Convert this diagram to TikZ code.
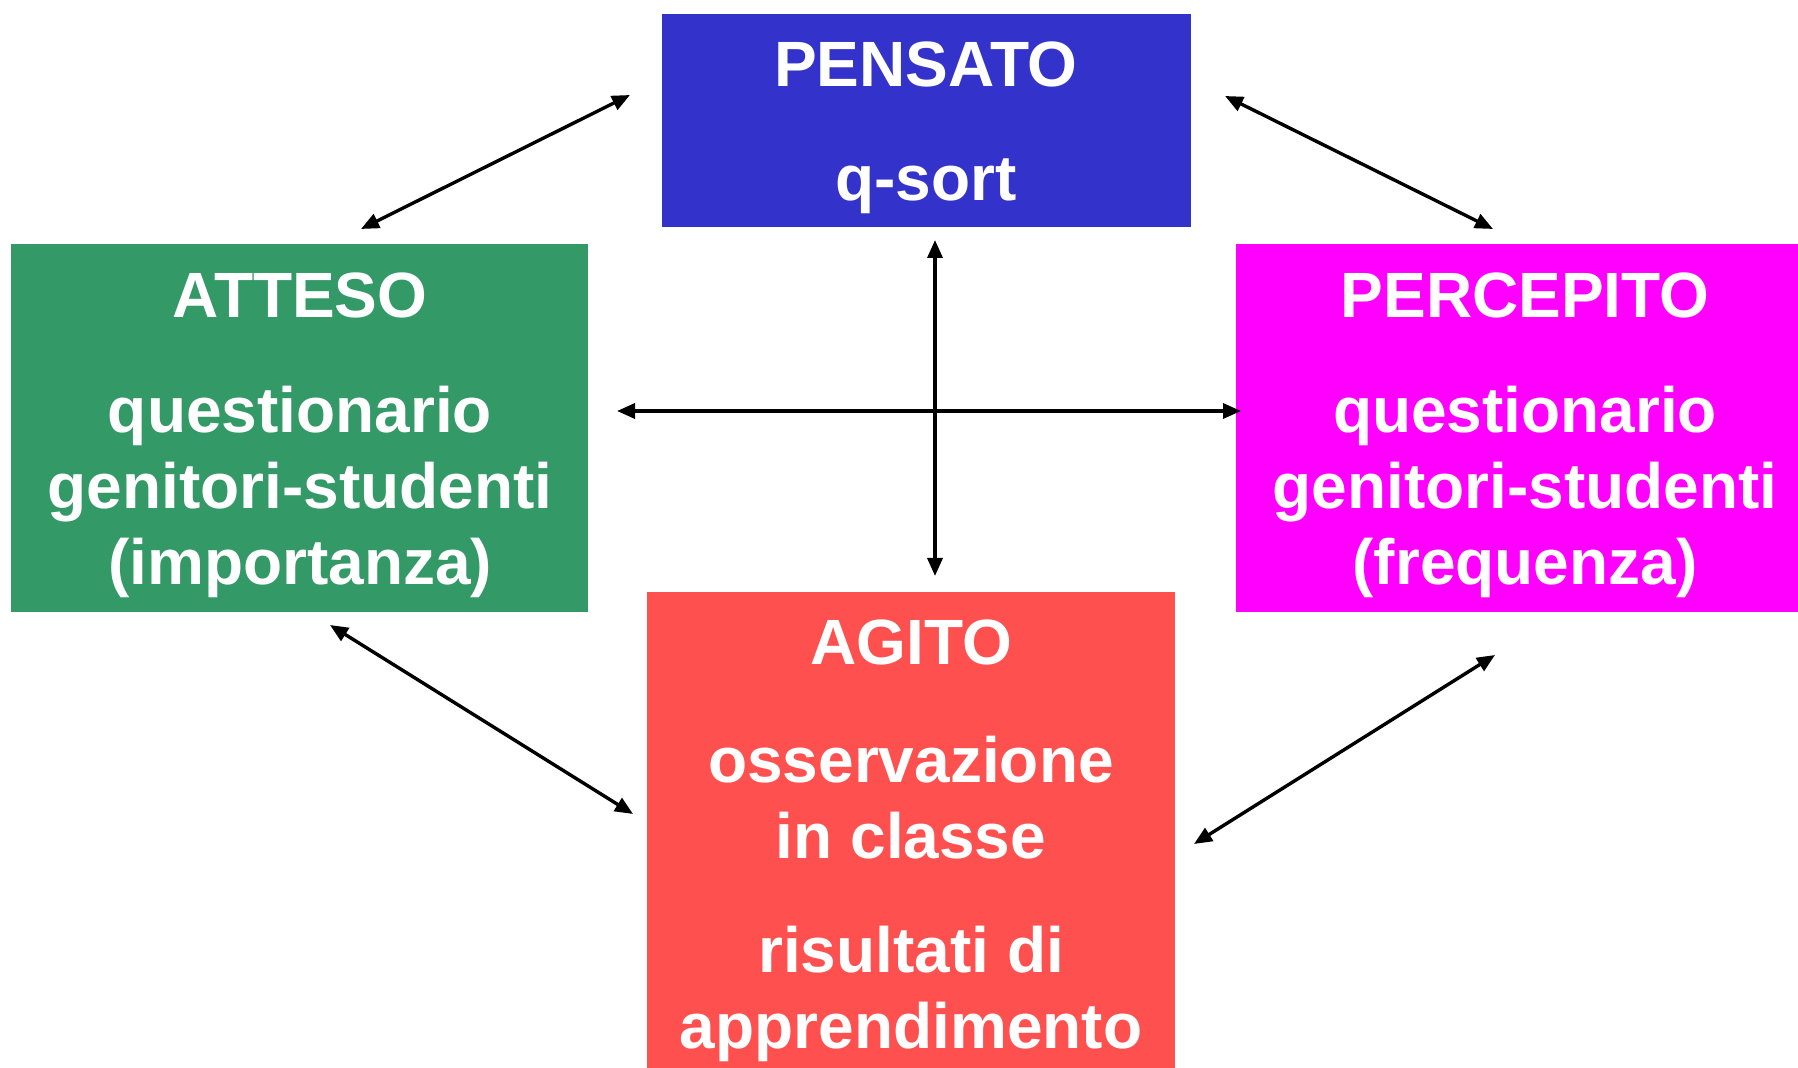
\documentclass[tikz,border=0pt]{standalone}
\usepackage{fontspec}
\setmainfont{Liberation Sans}
\usetikzlibrary{arrows.meta}
\definecolor{cblue}{HTML}{3333CC}
\definecolor{cgreen}{HTML}{339966}
\definecolor{cmag}{HTML}{FF00FF}
\definecolor{cred}{HTML}{FF5050}
\begin{document}
\begin{tikzpicture}[x=0.5pt,y=-0.5pt,
  box/.style={draw=none, inner sep=0, outer sep=0, anchor=north west},
  lbl/.style={text=white, font=\bfseries\fontsize{32}{38.4}\selectfont, anchor=base, inner sep=0},
  dbl/.style={{Triangle[length=9pt,width=7.5pt]}-{Triangle[length=9pt,width=7.5pt]}, line width=1.7pt}]
\useasboundingbox[fill=white] (0,0) rectangle (1798,1068);
% boxes
\node[box, fill=cblue, minimum width=264.5pt, minimum height=106.5pt] (pensato) at (662,14) {};
\node[box, fill=cgreen, minimum width=288.5pt, minimum height=184pt] (atteso) at (11,244) {};
\node[box, fill=cmag, minimum width=281pt, minimum height=184pt] (percepito) at (1236,244) {};
\node[box, fill=cred, minimum width=264pt, minimum height=238pt] (agito) at (647,592) {};
% texts
\node[lbl] (t1) at (926,87) {PENSATO};
\node[lbl] (t2) at (926,201) {q-sort};
\node[lbl] (t3) at (300,318) {ATTESO};
\node[lbl] (t4) at (300,433) {questionario};
\node[lbl] (t5) at (300,509) {genitori-studenti};
\node[lbl] (t6) at (300,585) {(importanza)};
\node[lbl] (t7) at (1525,318) {PERCEPITO};
\node[lbl] (t8) at (1525,433) {questionario};
\node[lbl] (t9) at (1525,509) {genitori-studenti};
\node[lbl] (t10) at (1525,585) {(frequenza)};
\node[lbl] (t11) at (911,665) {AGITO};
\node[lbl] (t12) at (911,782) {osservazione};
\node[lbl] (t13) at (911,858) {in classe};
\node[lbl] (t14) at (911,972) {risultati di};
\node[lbl] (t15) at (911,1048) {apprendimento};
% arrow endpoints
\coordinate (a1s) at (361,229); \coordinate (a1e) at (630,95);
\coordinate (a2s) at (1225,96); \coordinate (a2e) at (1493,229);
\coordinate (vs) at (935,240); \coordinate (ve) at (935,576);
\coordinate (hs) at (617,411); \coordinate (he) at (1241,411);
\coordinate (a5s) at (330,625); \coordinate (a5e) at (633,814);
\coordinate (a6s) at (1495,655); \coordinate (a6e) at (1194,844);
\draw[dbl] (a1s) -- (a1e);
\draw[dbl] (a2s) -- (a2e);
\draw[dbl] (vs) -- (ve);
\draw[dbl] (hs) -- (he);
\draw[dbl] (a5s) -- (a5e);
\draw[dbl] (a6s) -- (a6e);
\end{tikzpicture}
\end{document}
